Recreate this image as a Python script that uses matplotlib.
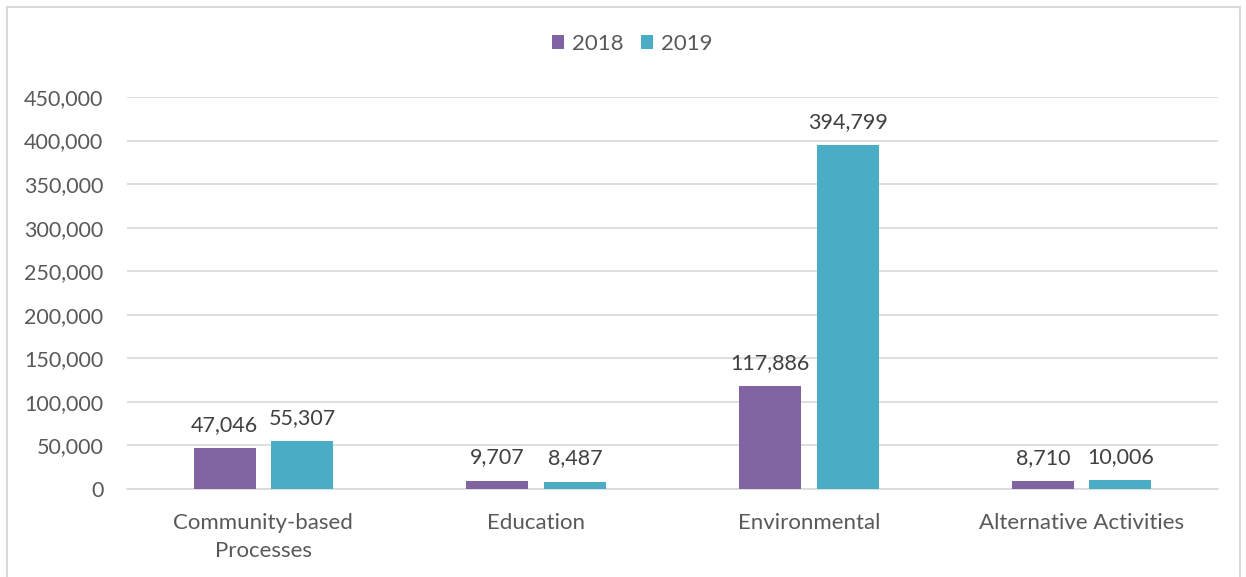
import matplotlib
matplotlib.use("Agg")
import matplotlib.pyplot as plt
from matplotlib.patches import Rectangle
from matplotlib.ticker import FuncFormatter, MultipleLocator
import numpy as np

categories = ["Community-based\nProcesses", "Education", "Environmental", "Alternative Activities"]
series_2018 = [47046, 9707, 117886, 8710]
series_2019 = [55307, 8487, 394799, 10006]
series_names = ["2018", "2019"]
colors = ["#8064A2", "#4BACC6"]

plt.rcParams["font.family"] = ["Lato", "DejaVu Sans"]
text_color = "#595959"
fs = 15.5

fig = plt.figure(figsize=(12.46, 5.77), dpi=100)
fig.patches.append(Rectangle((7 / 1246, -0.1), 1233 / 1246, 1.1 - 7 / 577,
                             transform=fig.transFigure, fill=False,
                             edgecolor="#D9D9D9", linewidth=1.5))

ax = fig.add_axes([127 / 1246, 1 - 489 / 577, (1218 - 127) / 1246, (489 - 97) / 577])

x = np.arange(len(categories))
width = 0.227
offset = 0.142
for vals, off, col, name in zip([series_2018, series_2019], [-offset, offset], colors, series_names):
    b = ax.bar(x + off, vals, width=width, color=col, label=name, zorder=3)
    for rect, v in zip(b, vals):
        ax.annotate(f"{v:,}", (rect.get_x() + rect.get_width() / 2, v),
                    xytext=(0, 9.5), textcoords="offset points",
                    ha="center", va="bottom", fontsize=fs, color="#404040")

ax.set_xlim(-0.5, len(categories) - 0.5)
ax.set_ylim(0, 450000)
ax.yaxis.set_major_locator(MultipleLocator(50000))
ax.yaxis.set_major_formatter(FuncFormatter(lambda v, p: f"{int(v):,}"))
ax.grid(axis="y", color="#D9D9D9", linewidth=1.2, zorder=0)
ax.set_xticks(x)
ax.set_xticklabels(categories, fontsize=fs + 0.5, color=text_color, linespacing=1.5)
ax.tick_params(axis="y", labelsize=fs, labelcolor=text_color, length=0, pad=17)
ax.tick_params(axis="x", length=0, pad=17)
for s in ["top", "right", "left"]:
    ax.spines[s].set_visible(False)
ax.spines["bottom"].set_color("#D9D9D9")
ax.spines["bottom"].set_linewidth(1.2)

fig.legend(loc="center", bbox_to_anchor=(632 / 1246, 1 - 44 / 577), ncol=2,
           frameon=False, fontsize=fs + 0.5, handlelength=0.55, handleheight=0.55,
           handletextpad=0.35, columnspacing=0.8, labelcolor=text_color)

fig.savefig("out.png", dpi=100, facecolor="white")
